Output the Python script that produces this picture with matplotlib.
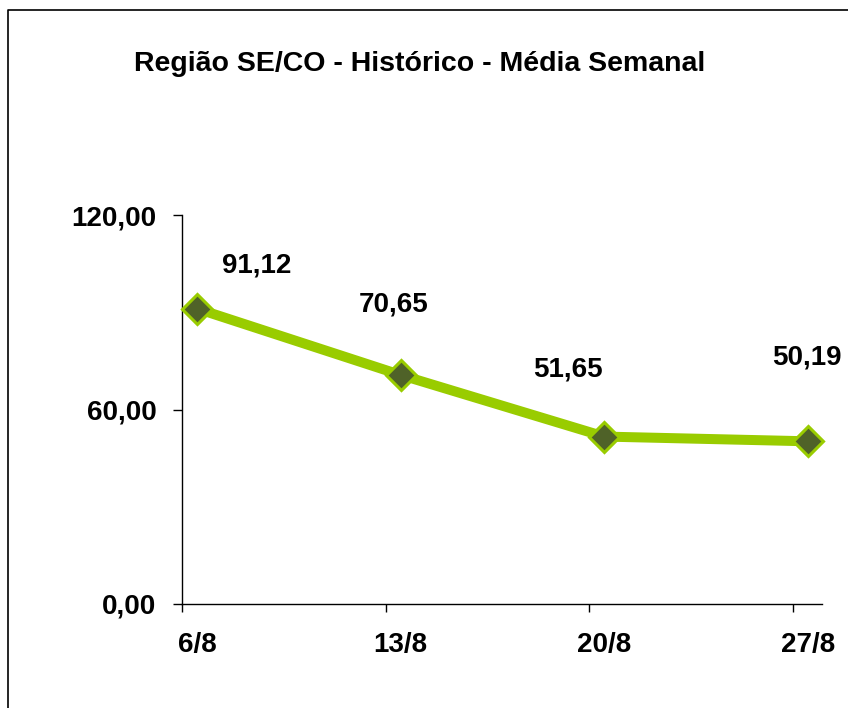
import matplotlib
matplotlib.use("Agg")
import matplotlib.pyplot as plt
from matplotlib.lines import Line2D

weeks = ["6/8", "13/8", "20/8", "27/8"]
media = [91.12, 70.65, 51.65, 50.19]
y_ticks = [0, 60, 120]

# label offsets (points) relative to each marker
lbl_dx = [43, -5, -26, -1]
lbl_dy = [31, 51, 48, 60]

plt.rcParams["font.family"] = ["Liberation Sans", "DejaVu Sans"]
plt.rcParams["font.weight"] = "bold"

fig = plt.figure(figsize=(8.48, 7.08), dpi=100)
# chart area border: only left and top edges fall inside the picture
fig.lines.append(Line2D([7.5 / 848, 7.5 / 848, 1.0], [0.0, 1 - 9.5 / 708, 1 - 9.5 / 708],
                        transform=fig.transFigure, color="black", linewidth=1.2))
ax = fig.add_axes([182 / 848, 104 / 708, 640 / 848, 389 / 708])

x = list(range(len(weeks)))
ax.plot(x, media, color="#99CC00", linewidth=7.2, marker="D",
        markersize=15, markerfacecolor="#4F6228",
        markeredgecolor="#99CC00", markeredgewidth=2.2, zorder=3,
        clip_on=False)

for i, v in enumerate(media):
    txt = f"{v:.2f}".replace(".", ",")
    ax.annotate(txt, (x[i], v), xytext=(lbl_dx[i], lbl_dy[i]),
                textcoords="offset points", ha="center", va="center",
                fontsize=20, fontweight="bold")

ax.set_xlim(-0.0735, 3.069)
ax.set_ylim(0, 120)
ax.set_yticks(y_ticks)
ax.set_yticklabels([f"{t:.2f}".replace(".", ",") for t in y_ticks])
ax.set_xticks(x)
ax.set_xticklabels(weeks)
ax.set_xticks([i - 0.0735 for i in x], minor=True)
ax.tick_params(axis="x", which="major", length=0, pad=20, labelsize=20)
ax.tick_params(axis="x", which="minor", length=6, width=1, direction="out")
ax.tick_params(axis="y", length=6.5, width=1, pad=12, labelsize=20)

for s in ("top", "right"):
    ax.spines[s].set_visible(False)
for s in ("left", "bottom"):
    ax.spines[s].set_linewidth(1)

fig.text(420 / 848, 1 - 64 / 708, "Região SE/CO - Histórico - Média Semanal",
         ha="center", va="center", fontsize=20.5, fontweight="bold")

fig.savefig("out.png", dpi=100)
